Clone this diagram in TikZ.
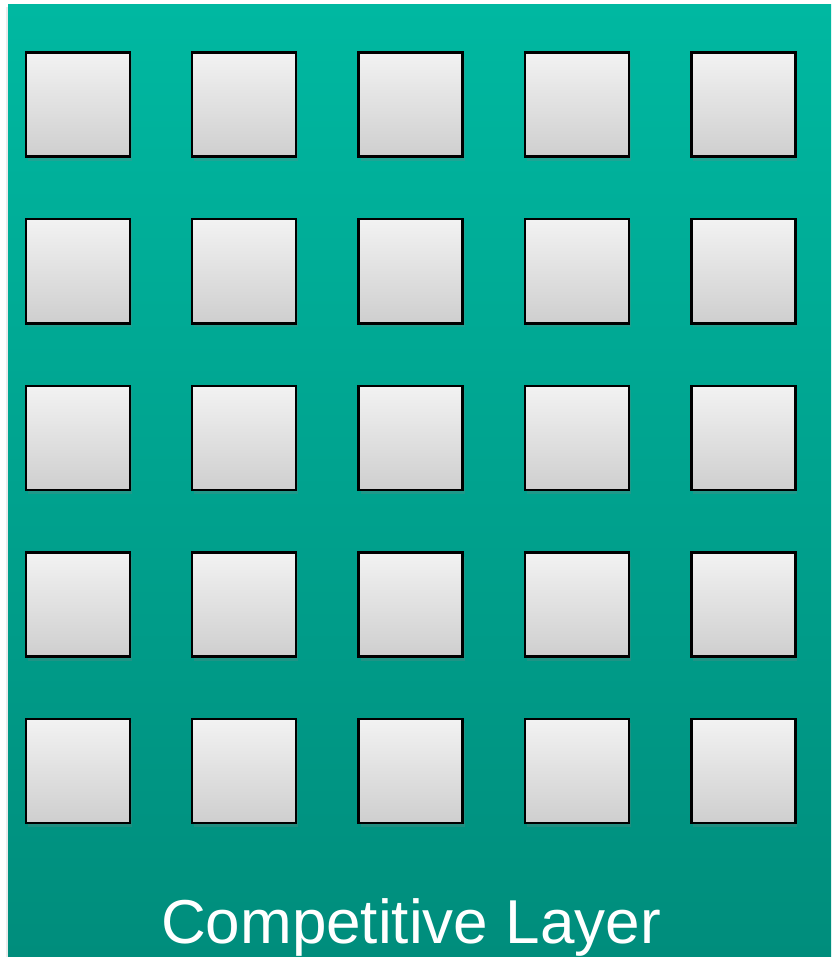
\documentclass[tikz,border=0pt]{standalone}
\usepackage{fontspec}
\setmainfont{Liberation Sans}
\usepackage{xcolor}
\usetikzlibrary{shadows, positioning}

\definecolor{layertop}{RGB}{0,184,161}
\definecolor{layerbot}{RGB}{0,141,124}

\begin{document}
\begin{tikzpicture}[x=1pt, y=-1pt,
    unit/.style={draw=black, line width=2.4pt, minimum size=104pt, inner sep=0pt,
      top color=gray!10, bottom color=gray!38, anchor=north west,
      drop shadow={shadow xshift=2pt, shadow yshift=-4pt, opacity=0.25}}]
   \useasboundingbox (0,0) rectangle (831,957);
   \fill[black!8] (6,7) rectangle (8,957);
   \shade[top color=layertop, bottom color=layerbot] (8,5) rectangle (831,957);

   % 5 x 5 grid of units
   \foreach \r in {0,...,4}
     \foreach \c in {0,...,4}
       \node[unit] (u-\r-\c) at ({24.5+166.4*\c},{51.5+166.6*\r}) {};

   \node[text=white, font=\fontsize{62}{70}\selectfont, anchor=base] (title)
     at (411,943) {Competitive Layer};
\end{tikzpicture}
\end{document}
